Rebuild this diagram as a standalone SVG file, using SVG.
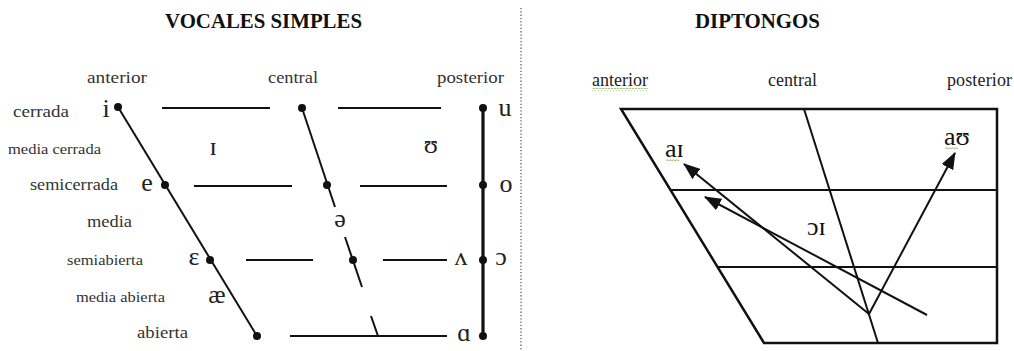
<svg xmlns="http://www.w3.org/2000/svg" width="1014" height="351" viewBox="0 0 1014 351">
<defs>
<style>
.title{font-family:"Liberation Serif",serif;font-weight:bold;font-size:21px;fill:#111}
.lbl{font-family:"Liberation Serif","DejaVu Serif",serif;fill:#333}
.v{font-family:"Liberation Serif","DejaVu Serif",serif;font-size:26px;fill:#222;text-anchor:middle}
.rl{font-family:"Liberation Serif",serif;font-size:18px;fill:#222}
.rv{font-family:"Liberation Serif","DejaVu Serif",serif;font-size:26px;fill:#111}
.ln{stroke:#111;stroke-width:2;fill:none}
.thick{stroke:#111;stroke-width:3.2;fill:none}
.dot{fill:#111}
</style>
<marker id="ah" markerUnits="userSpaceOnUse" markerWidth="17" markerHeight="13" refX="16" refY="6.5" orient="auto">
<path d="M0,0 L17,6.5 L0,13 z" fill="#111"/>
</marker>
<pattern id="squig" patternUnits="userSpaceOnUse" width="3" height="3">
<path d="M0,2.2 L1.5,0.6 L3,2.2" stroke="#7aa64f" stroke-width="0.8" fill="none"/>
</pattern>
</defs>
<rect width="1014" height="351" fill="#fff"/>

<!-- titles and separator -->
<text class="title" x="165" y="28" textLength="197" lengthAdjust="spacingAndGlyphs">VOCALES SIMPLES</text>
<text class="title" x="695" y="28" textLength="125" lengthAdjust="spacingAndGlyphs">DIPTONGOS</text>
<line x1="521" y1="8" x2="521" y2="351" stroke="#555" stroke-width="1.2" stroke-dasharray="1.3 2"/>

<!-- LEFT CHART -->
<g id="left-labels">
<text class="lbl" x="87" y="83" font-size="17" textLength="60" lengthAdjust="spacingAndGlyphs">anterior</text>
<text class="lbl" x="268" y="83" font-size="17" textLength="50" lengthAdjust="spacingAndGlyphs">central</text>
<text class="lbl" x="437" y="83" font-size="17" textLength="67" lengthAdjust="spacingAndGlyphs">posterior</text>
<text class="lbl" x="13" y="117" font-size="17" textLength="56" lengthAdjust="spacingAndGlyphs">cerrada</text>
<text class="lbl" x="8" y="154" font-size="15.5" textLength="93" lengthAdjust="spacingAndGlyphs">media cerrada</text>
<text class="lbl" x="30" y="190" font-size="16.5" textLength="88" lengthAdjust="spacingAndGlyphs">semicerrada</text>
<text class="lbl" x="87" y="227" font-size="17" textLength="45" lengthAdjust="spacingAndGlyphs">media</text>
<text class="lbl" x="67" y="265" font-size="15.5" textLength="76" lengthAdjust="spacingAndGlyphs">semiabierta</text>
<text class="lbl" x="76" y="302" font-size="15.5" textLength="89" lengthAdjust="spacingAndGlyphs">media abierta</text>
<text class="lbl" x="137" y="338" font-size="17" textLength="51" lengthAdjust="spacingAndGlyphs">abierta</text>
</g>

<g id="left-connectors">
<line class="ln" x1="118" y1="107" x2="257" y2="336"/>
<line class="ln" x1="162" y1="108" x2="270" y2="108"/>
<line class="ln" x1="338" y1="108" x2="441" y2="108"/>
<line class="ln" x1="194" y1="186" x2="292" y2="186"/>
<line class="ln" x1="360" y1="186" x2="447" y2="186"/>
<line class="ln" x1="246" y1="260" x2="313" y2="260"/>
<line class="ln" x1="383" y1="260" x2="447" y2="260"/>
<line class="ln" x1="290" y1="336" x2="447" y2="336"/>
<line class="ln" x1="302" y1="108" x2="335" y2="207"/>
<line class="ln" x1="345" y1="237" x2="362" y2="287"/>
<line class="ln" x1="371" y1="316" x2="378" y2="336"/>
<line class="thick" x1="483" y1="108" x2="483" y2="336"/>
</g>

<g id="left-dots">
<circle class="dot" cx="118" cy="107" r="4"/>
<circle class="dot" cx="165" cy="185" r="4"/>
<circle class="dot" cx="210" cy="260" r="4"/>
<circle class="dot" cx="257" cy="336" r="4"/>
<circle class="dot" cx="302" cy="108" r="4"/>
<circle class="dot" cx="327" cy="185" r="4"/>
<circle class="dot" cx="353" cy="260" r="4"/>
<circle class="dot" cx="483" cy="108" r="4"/>
<circle class="dot" cx="483" cy="185" r="4"/>
<circle class="dot" cx="483" cy="260" r="4"/>
<circle class="dot" cx="483" cy="336" r="4"/>
</g>

<g id="left-vowels">
<text class="v" x="106" y="117">i</text>
<text class="v" x="213" y="155">ɪ</text>
<text class="v" x="147" y="191">e</text>
<text class="v" x="194" y="265">ɛ</text>
<text class="v" x="217" y="303">æ</text>
<text class="v" x="340" y="227">ə</text>
<text class="v" x="431" y="153">ʊ</text>
<text class="v" x="505" y="116">u</text>
<text class="v" x="506" y="192">o</text>
<text class="v" x="461" y="265">ʌ</text>
<text class="v" x="501" y="265">ɔ</text>
<text class="v" x="464" y="341">ɑ</text>
</g>

<!-- RIGHT CHART -->
<g id="right-labels">
<text class="rl" x="592" y="86" textLength="56">anterior</text>
<rect x="592" y="88" width="56" height="3" fill="url(#squig)"/>
<text class="rl" x="768" y="86" textLength="49">central</text>
<text class="rl" x="947" y="86" textLength="65">posterior</text>
</g>

<g id="right-frame">
<polygon points="621,109 997,109 997,343 764,343" fill="none" stroke="#111" stroke-width="2.5"/>
<line class="ln" x1="670" y1="190" x2="997" y2="190"/>
<line class="ln" x1="718" y1="267" x2="997" y2="267"/>
<line class="ln" x1="804" y1="109" x2="878" y2="343"/>
</g>

<g id="right-arrows">
<line class="ln" x1="869" y1="314" x2="684" y2="164" marker-end="url(#ah)"/>
<line class="ln" x1="927" y1="315" x2="705" y2="197" marker-end="url(#ah)"/>
<line class="ln" x1="869" y1="314" x2="955" y2="153" marker-end="url(#ah)"/>
</g>

<g id="right-vowels">
<text class="rv" x="665" y="157">aɪ</text>
<rect x="666" y="158" width="13" height="3" fill="url(#squig)"/>
<text class="rv" x="944" y="145">aʊ</text>
<rect x="945" y="147" width="13" height="3" fill="url(#squig)"/>
<text class="rv" x="807" y="235">ɔɪ</text>
</g>
</svg>
